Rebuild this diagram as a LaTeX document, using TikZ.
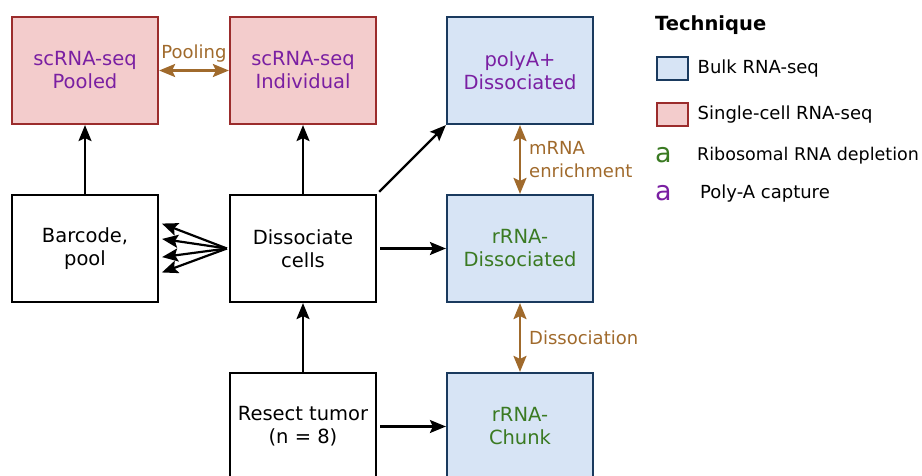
\documentclass[tikz,border=0pt]{standalone}
\usepackage{fontspec}
\setmainfont{DejaVu Sans}
\usetikzlibrary{positioning, arrows.meta}

\definecolor{scfill}{HTML}{F3CCCC}
\definecolor{scdraw}{HTML}{9B2C2C}
\definecolor{bkfill}{HTML}{D7E4F5}
\definecolor{bkdraw}{HTML}{1A3A5E}
\definecolor{polyc}{HTML}{7A1FA2}
\definecolor{ribo}{HTML}{3A7A22}
\definecolor{linkc}{HTML}{A06A2C}

\begin{document}
\begin{tikzpicture}[
    x=1pt, y=-1pt,
    every node/.style={font=\fontsize{19.5}{23}\selectfont},
    box/.style={draw, line width=2.2pt, minimum width=146pt, minimum height=107pt, align=center, inner sep=0pt},
    bulk/.style={box, fill=bkfill, draw=bkdraw},
    sc/.style={box, fill=scfill, draw=scdraw},
    plain/.style={box, fill=white},
    flow/.style={-{Stealth[length=16pt, width=13pt, inset=3pt]}, line width=2.2pt},
    link/.style={{Stealth[length=16pt, width=13pt, inset=3pt]}-{Stealth[length=16pt, width=13pt, inset=3pt]}, line width=2.4pt, draw=linkc},
    linklbl/.style={text=linkc, inner sep=0pt, font=\fontsize{18}{23}\selectfont},
    legend/.style={anchor=west, inner sep=0pt, font=\fontsize{18}{22}\selectfont},
    swatch/.style={draw, line width=2pt, minimum width=31pt, minimum height=23pt, inner sep=0pt},
]
\useasboundingbox (0,0) rectangle (922,476);

% ── Top row ─────────────────────────────────────────────────────────────────
\node[sc, text=polyc] (pooled) at (85,70.5) {scRNA-seq\\Pooled};
\node[sc, text=polyc, right=69.8pt of pooled] (indiv) {scRNA-seq\\Individual};
\node[bulk, text=polyc, right=68.8pt of indiv] (polya) {polyA+\\Dissociated};

% ── Middle row ──────────────────────────────────────────────────────────────
\node[plain, below=68.8pt of pooled] (barcode) {Barcode,\\pool};
\node[plain, below=68.8pt of indiv] (dissoc) {Dissociate\\cells};
\node[bulk, text=ribo, below=68.8pt of polya] (rrnadis) {rRNA-\\Dissociated};

% ── Bottom row ──────────────────────────────────────────────────────────────
\node[plain, below=68.8pt of dissoc] (resect) {Resect tumor\\(n = 8)};
\node[bulk, text=ribo, below=68.8pt of rrnadis] (chunk) {rRNA-\\Chunk};

% ── Flow arrows ─────────────────────────────────────────────────────────────
\draw[flow] (barcode) -- (pooled);
\draw[flow] (dissoc) -- (indiv);
\draw[flow, shorten <=3pt] (dissoc.north east) -- (polya.south west);
\draw[flow, shorten <=3pt] (dissoc) -- (rrnadis);
\draw[flow] (resect) -- (dissoc);
\draw[flow, shorten <=3pt] (resect) -- (chunk);
\foreach \dy in {26, 10, -9, -25}
    \draw[flow, shorten >=3pt] ([xshift=-2pt]dissoc.west) -- ([yshift=\dy pt]barcode.east);

% ── Technique links ─────────────────────────────────────────────────────────
\draw[link] (pooled) -- node[linklbl, above=7pt] {Pooling} (indiv);
\draw[link] (polya) -- node[linklbl, right=8pt, align=left] {mRNA\\enrichment} (rrnadis);
\draw[link] (rrnadis) -- node[linklbl, right=8pt] {Dissociation} (chunk);

% ── Legend ──────────────────────────────────────────────────────────────────
\node[legend, font=\fontsize{19.5}{22}\selectfont\bfseries] (legtitle) at (655,25) {Technique};
\node[swatch, fill=bkfill, draw=bkdraw] (legbulk) at (672,69) {};
\node[legend, right=9pt of legbulk] {Bulk RNA-seq};
\node[swatch, fill=scfill, draw=scdraw] (legsc) at (672,115) {};
\node[legend, right=9pt of legsc] {Single-cell RNA-seq};
\node[legend, text=ribo, font=\fontsize{27}{27}\selectfont] (legribo) at (655,155) {a};
\node[legend, font=\fontsize{17.5}{20}\selectfont] at (697,156) {Ribosomal RNA depletion};
\node[legend, text=polyc, font=\fontsize{27}{27}\selectfont] (legpoly) at (655,193) {a};
\node[legend] at (700,194) {Poly-A capture};

\end{tikzpicture}
\end{document}
